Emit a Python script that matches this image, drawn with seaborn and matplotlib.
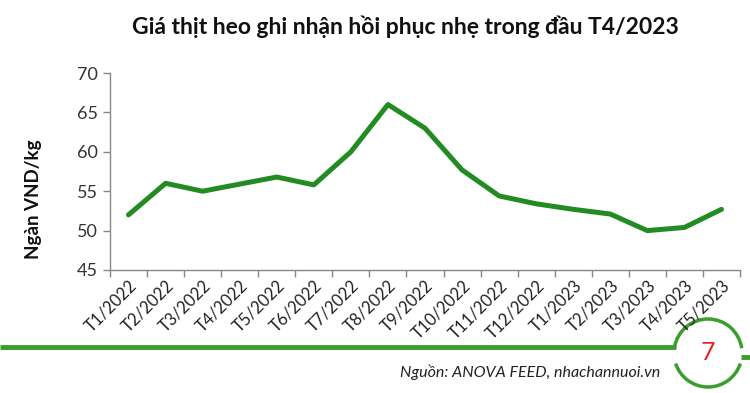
import matplotlib
matplotlib.use("Agg")
import matplotlib.pyplot as plt
import seaborn as sns
import pandas as pd
from matplotlib.patches import Arc

months = ["T1/2022", "T2/2022", "T3/2022", "T4/2022", "T5/2022", "T6/2022",
          "T7/2022", "T8/2022", "T9/2022", "T10/2022", "T11/2022", "T12/2022",
          "T1/2023", "T2/2023", "T3/2023", "T4/2023", "T5/2023"]
prices = [52.0, 56.0, 55.0, 55.9, 56.8, 55.8, 60.0, 66.0, 63.0, 57.7, 54.4,
          53.4, 52.7, 52.1, 50.0, 50.4, 52.7]
y_ticks = [45, 50, 55, 60, 65, 70]

title = "Giá thịt heo ghi nhận hồi phục nhẹ trong đầu T4/2023"
ylabel = "Ngàn VND/kg"
source = "Nguồn: ANOVA FEED, nhachannuoi.vn"
page = "7"

sns.set_theme(style="white")
plt.rcParams['font.family'] = ['Lato', 'DejaVu Sans']

W, H = 750, 393
fig = plt.figure(figsize=(W / 100, H / 100), dpi=100)
fig.patch.set_facecolor("white")

ax = fig.add_axes([110 / W, 1 - 270 / H, 630 / W, 197 / H])
df = pd.DataFrame({"x": range(len(months)), "price": prices})
sns.lineplot(data=df, x="x", y="price", ax=ax, color="#228B22", linewidth=3.6,
             solid_joinstyle="round", solid_capstyle="round")

ax.set_xlim(-0.5, len(months) - 0.5)
ax.set_ylim(45, 70)
ax.set_yticks(y_ticks)
ax.set_yticklabels([str(v) for v in y_ticks], fontsize=13, color="#333333")
ax.set_xticks([i - 0.5 for i in range(len(months) + 1)])
ax.set_xticklabels([])
ax.set_xticks(range(len(months)), minor=True)
ax.set_xticklabels(months, minor=True, rotation=45, ha="right",
                   rotation_mode="anchor", fontsize=12, color="#222222")
ax.tick_params(axis="x", which="minor", length=0, pad=5)
ax.tick_params(axis="x", which="major", length=5, width=1, color="#888888", direction="out")
ax.tick_params(axis="y", length=5, width=1, color="#888888", direction="out", pad=4)
ax.tick_params(bottom=True, left=True)
for s in ["top", "right"]:
    ax.spines[s].set_visible(False)
for s in ["left", "bottom"]:
    ax.spines[s].set_color("#888888")
    ax.spines[s].set_linewidth(1)
ax.set_xlabel("")
ax.set_ylabel(ylabel, fontsize=13.5, fontweight="bold", color="#111111")
ax.yaxis.set_label_coords(-0.108, 0.36)

fig.text(405 / W, 1 - 27 / H, title, ha="center", va="center",
         fontsize=16.5, fontweight="bold", color="#111111")

# decoration overlay in pixel coordinates
ov = fig.add_axes([0, 0, 1, 1], zorder=-1)
ov.set_xlim(0, W)
ov.set_ylim(0, H)
ov.axis("off")
green = "#3A9E2E"
ov.plot([0, 676], [H - 347, H - 347], color=green, linewidth=3.5, solid_capstyle="butt")
ov.plot([741, 750], [H - 357, H - 357], color=green, linewidth=3.5, solid_capstyle="butt")
cx, cy, r = 708, H - 353, 34
ov.add_patch(Arc((cx, cy), 2 * r, 2 * r, theta1=8, theta2=170, color=green, linewidth=2.5))
ov.add_patch(Arc((cx, cy), 2 * r, 2 * r, theta1=198, theta2=342, color=green, linewidth=2.5))
fig.text(cx / W, cy / H, page, ha="center", va="center", fontsize=18, color="#E52521")
fig.text(660 / W, 1 - 372 / H, source, ha="right", va="center", fontsize=11.5,
         style="italic", color="#222222")

fig.savefig("out.png", dpi=100, facecolor="white")
